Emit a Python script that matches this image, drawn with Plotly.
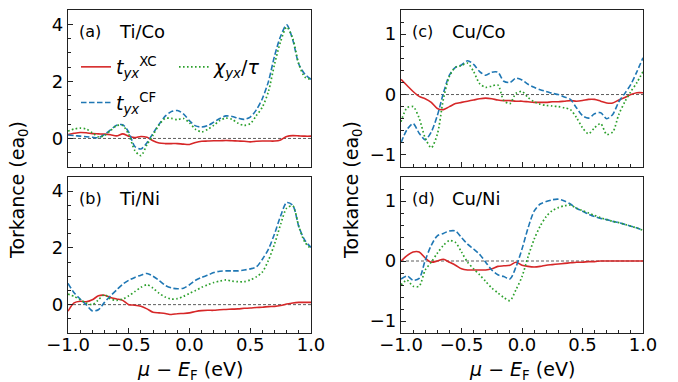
import plotly.graph_objects as go

mu = [-1.0, -0.95, -0.9, -0.85, -0.8, -0.75, -0.7, -0.65, -0.6, -0.55, -0.5, -0.45, -0.4, -0.35, -0.3,
      -0.25, -0.2, -0.15, -0.1, -0.05, 0.0, 0.05, 0.1, 0.15, 0.2, 0.25, 0.3, 0.35, 0.4, 0.45, 0.5,
      0.55, 0.6, 0.65, 0.7, 0.75, 0.8, 0.85, 0.9, 0.95, 1.0]

# (a) Ti/Co
xc_a = [0.14, 0.18, 0.21, 0.2, 0.17, 0.16, 0.15, 0.13, 0.09, 0.16, 0.08, 0.03, 0.07, 0.04, -0.08,
        -0.16, -0.18, -0.18, -0.18, -0.2, -0.21, -0.14, -0.1, -0.09, -0.08, -0.08, -0.07, -0.08, -0.09, -0.1, -0.12,
        -0.1, -0.09, -0.09, -0.09, -0.05, 0.07, 0.1, 0.09, 0.08, 0.08]
cf_a = [0.12, 0.1, 0.08, 0.06, 0.04, 0.03, 0.14, 0.3, 0.46, 0.48, 0.22, -0.28, -0.37, -0.15, 0.18,
        0.5, 0.78, 0.94, 0.98, 0.86, 0.62, 0.44, 0.4, 0.45, 0.57, 0.7, 0.79, 0.77, 0.71, 0.67, 0.75,
        1.0, 1.4, 2.0, 2.89, 3.58, 3.98, 3.45, 2.6, 2.25, 2.07]
chi_a = [0.26, 0.33, 0.36, 0.33, 0.2, 0.06, 0.1, 0.28, 0.45, 0.45, 0.14, -0.42, -0.6, -0.22, 0.12,
         0.48, 0.7, 0.7, 0.66, 0.7, 0.55, 0.32, 0.23, 0.32, 0.46, 0.63, 0.71, 0.67, 0.53, 0.46, 0.52,
         0.8, 1.1, 1.65, 2.6, 3.4, 3.9, 3.5, 2.6, 2.15, 2.07]

# (b) Ti/Ni
xc_b = [-0.23, 0.06, 0.12, 0.1, 0.17, 0.31, 0.33, 0.25, 0.2, 0.15, 0.0, -0.02, -0.06, -0.15, -0.27,
        -0.29, -0.31, -0.35, -0.32, -0.31, -0.29, -0.24, -0.21, -0.2, -0.2, -0.18, -0.17, -0.16, -0.15, -0.13, -0.12,
        -0.1, -0.09, -0.07, -0.06, -0.03, 0.02, 0.06, 0.08, 0.08, 0.08]
cf_b = [0.75, 0.42, 0.2, 0.0, -0.22, -0.18, 0.08, 0.31, 0.52, 0.72, 0.86, 0.96, 1.04, 1.1, 1.0,
        0.85, 0.68, 0.59, 0.56, 0.58, 0.7, 0.86, 0.96, 1.04, 1.13, 1.18, 1.19, 1.19, 1.19, 1.22, 1.26,
        1.33, 1.6, 1.96, 2.5, 3.13, 3.6, 3.5, 2.75, 2.26, 2.02]
chi_b = [0.37, 0.29, 0.17, 0.06, 0.0, 0.17, 0.35, 0.2, 0.15, 0.2, 0.31, 0.46, 0.61, 0.7, 0.58,
         0.4, 0.27, 0.2, 0.21, 0.29, 0.4, 0.5, 0.61, 0.7, 0.78, 0.83, 0.87, 0.83, 0.81, 0.81, 0.87,
         0.98, 1.15, 1.57, 2.14, 2.83, 3.4, 3.48, 2.75, 2.2, 1.97]

# (c) Cu/Co
xc_c = [0.25, 0.15, 0.05, -0.03, -0.07, -0.13, -0.23, -0.25, -0.2, -0.15, -0.13, -0.11, -0.09, -0.07, -0.06,
        -0.07, -0.09, -0.1, -0.1, -0.11, -0.11, -0.12, -0.13, -0.13, -0.13, -0.12, -0.12, -0.11, -0.1, -0.11, -0.1,
        -0.08, -0.08, -0.11, -0.14, -0.14, -0.09, -0.05, 0.0, 0.03, 0.03]
cf_c = [-0.8, -0.58, -0.48, -0.64, -0.75, -0.62, -0.35, 0.02, 0.32, 0.45, 0.49, 0.56, 0.5, 0.38, 0.32,
        0.37, 0.37, 0.22, 0.2, 0.27, 0.24, 0.17, 0.12, 0.08, 0.05, 0.02, 0.0, -0.04, -0.08, -0.22, -0.35,
        -0.39, -0.32, -0.3, -0.4, -0.33, -0.12, 0.02, 0.17, 0.38, 0.61]
chi_c = [-0.45, -0.22, -0.2, -0.39, -0.72, -0.88, -0.66, -0.08, 0.3, 0.45, 0.48, 0.52, 0.38, 0.18, 0.12,
         0.14, 0.16, -0.1, -0.15, 0.02, 0.05, -0.05, -0.12, -0.16, -0.18, -0.19, -0.2, -0.22, -0.25, -0.38, -0.55,
         -0.65, -0.55, -0.48, -0.66, -0.62, -0.33, -0.12, 0.05, 0.2, 0.38]

# (d) Cu/Ni
xc_d = [0.0, 0.09, 0.15, 0.15, 0.05, -0.02, 0.0, 0.03, -0.02, -0.07, -0.13, -0.15, -0.15, -0.15, -0.15,
        -0.13, -0.09, -0.08, -0.07, -0.02, -0.07, -0.09, -0.1, -0.09, -0.07, -0.06, -0.05, -0.04, -0.03, -0.02, -0.02,
        -0.01, -0.01, 0.0, 0.0, 0.0, 0.0, 0.0, 0.0, 0.0, 0.0]
cf_d = [-0.3, -0.25, -0.32, -0.29, 0.01, 0.26, 0.42, 0.46, 0.5, 0.5, 0.39, 0.28, 0.2, 0.11, -0.02,
        -0.15, -0.23, -0.26, -0.3, -0.1, 0.2, 0.55, 0.83, 0.95, 0.99, 1.02, 1.03, 1.0, 0.95, 0.88, 0.83,
        0.78, 0.74, 0.71, 0.69, 0.66, 0.64, 0.61, 0.58, 0.55, 0.51]
chi_d = [-0.4, -0.32, -0.42, -0.42, -0.15, -0.02, 0.13, 0.26, 0.34, 0.31, 0.15, -0.02, -0.13, -0.23, -0.34,
         -0.45, -0.53, -0.61, -0.66, -0.48, -0.26, 0.07, 0.36, 0.58, 0.74, 0.84, 0.89, 0.92, 0.93, 0.88, 0.84,
         0.8, 0.76, 0.72, 0.69, 0.66, 0.64, 0.61, 0.58, 0.55, 0.51]

panel_labels = ["(a)", "(b)", "(c)", "(d)"]
panel_names = ["Ti/Co", "Ti/Ni", "Cu/Co", "Cu/Ni"]
series_names = ["<i>t</i><sub><i>yx</i></sub><sup>XC</sup>",
                "<i>t</i><sub><i>yx</i></sub><sup>CF</sup>",
                "<i>χ</i><sub><i>yx</i></sub>/<i>τ</i>"]
x_ticks = [-1.0, -0.5, 0.0, 0.5, 1.0]
y_ticks_left = [0, 2, 4]
y_ticks_right = [-1, 0, 1]

RED = "#d62728"
BLUE = "#1f77b4"
GREEN = "#2ca02c"
FONT = "DejaVu Sans"

W, H = 678, 382
def px(x):
    return x / W
def py(y):
    return 1 - y / H

panels = [
    ("x", "y", (xc_a, cf_a, chi_a), (68, 311), (10, 167), [-1, 4.5], y_ticks_left, 0.5, False),
    ("x2", "y2", (xc_b, cf_b, chi_b), (68, 311), (177, 333), [-1, 4.5], y_ticks_left, 0.5, True),
    ("x3", "y3", (xc_c, cf_c, chi_c), (401, 643), (10, 167), [-1.2, 1.4], y_ticks_right, 0.2, False),
    ("x4", "y4", (xc_d, cf_d, chi_d), (401, 643), (177, 333), [-1.2, 1.4], y_ticks_right, 0.2, True),
]

fig = go.Figure()
layout = dict(
    template="none",
    width=W, height=H, margin=dict(l=0, r=0, t=0, b=0, pad=0), autosize=False,
    paper_bgcolor="white", plot_bgcolor="white",
    font=dict(family=FONT, size=18, color="black"),
)

styles = [dict(color=RED, width=1.6, dash="solid"),
          dict(color=BLUE, width=1.6, dash="5.5px,2.5px"),
          dict(color=GREEN, width=1.7, dash="1.6px,2.4px")]

for i, (xa, ya, data, xd, yd, yr, yt, ymin_dt, showx) in enumerate(panels):
    fig.add_trace(go.Scatter(x=[mu[0], mu[-1]], y=[0, 0], mode="lines", xaxis=xa, yaxis=ya,
                             line=dict(color="#333333", width=0.8, dash="3px,2px"),
                             showlegend=False, hoverinfo="skip"))
    for j, (vals, st) in enumerate(zip(data, styles)):
        leg = "legend2" if j == 2 else "legend"
        fig.add_trace(go.Scatter(x=mu, y=vals, mode="lines", xaxis=xa, yaxis=ya,
                                 line=dict(shape="spline", smoothing=0.8, **st),
                                 name=series_names[j], legend=leg, legendgroup=f"g{j}",
                                 showlegend=(i == 0)))
    xkey = "xaxis" + xa[1:]
    ykey = "yaxis" + ya[1:]
    layout[xkey] = dict(
        domain=[px(xd[0]), px(xd[1])], anchor=ya, range=[-1, 1], automargin=False,
        tickvals=x_ticks, ticktext=[("−" if v < 0 else "") + f"{abs(v):.1f}" for v in x_ticks],
        showticklabels=showx, ticks="inside", ticklen=5, tickwidth=1, tickcolor="#222",
        ticklabelstandoff=-5,
        minor=dict(ticks="inside", dtick=0.1, ticklen=3, tickcolor="#222", tick0=0, showgrid=False),
        showline=True, linecolor="#222", linewidth=1.2, mirror=True,
        showgrid=False, zeroline=False, tickfont=dict(size=18),
    )
    layout[ykey] = dict(
        domain=[py(yd[1]), py(yd[0])], anchor=xa, range=yr, automargin=False,
        tickvals=yt, ticktext=[("−" if v < 0 else "") + str(abs(v)) for v in yt],
        ticks="inside", ticklen=5, tickwidth=1, tickcolor="#222",
        minor=dict(ticks="inside", dtick=ymin_dt, ticklen=3, tickcolor="#222", tick0=0, showgrid=False),
        showline=True, linecolor="#222", linewidth=1.2, mirror=True,
        showgrid=False, zeroline=False, tickfont=dict(size=18),
    )

annotations = []
for i, (xa, ya, data, xd, yd, yr, yt, ymin_dt, showx) in enumerate(panels):
    annotations.append(dict(text=panel_labels[i], xref="paper", yref="paper",
                            x=px(xd[0] + 9), y=py(yd[0] + 21), xanchor="left", yanchor="middle",
                            showarrow=False, font=dict(size=16)))
    annotations.append(dict(text=panel_names[i], xref="paper", yref="paper",
                            x=px(xd[0] + 49), y=py(yd[0] + 21), xanchor="left", yanchor="middle",
                            showarrow=False, font=dict(size=18)))

ytitle = "Torkance (ea<sub>0</sub>)"
for xc in (18, 352):
    annotations.append(dict(text=ytitle, xref="paper", yref="paper", x=px(xc), y=py(190),
                            xanchor="center", yanchor="middle", textangle=-90,
                            showarrow=False, font=dict(size=19)))
xtitle = "<i>μ</i> − <i>E</i><sub>F</sub> (eV)"
for xc in (189.5, 522):
    annotations.append(dict(text=xtitle, xref="paper", yref="paper", x=px(xc), y=py(370),
                            xanchor="center", yanchor="middle",
                            showarrow=False, font=dict(size=19)))

layout["annotations"] = annotations
layout["legend"] = dict(x=px(76), y=py(48), xanchor="left", yanchor="top",
                        bgcolor="rgba(0,0,0,0)", font=dict(size=19), tracegroupgap=8,
                        itemwidth=30)
layout["legend2"] = dict(x=px(174), y=py(48), xanchor="left", yanchor="top",
                         bgcolor="rgba(0,0,0,0)", font=dict(size=19), itemwidth=30)
fig.update_layout(**layout)
fig.write_html("out.html")
